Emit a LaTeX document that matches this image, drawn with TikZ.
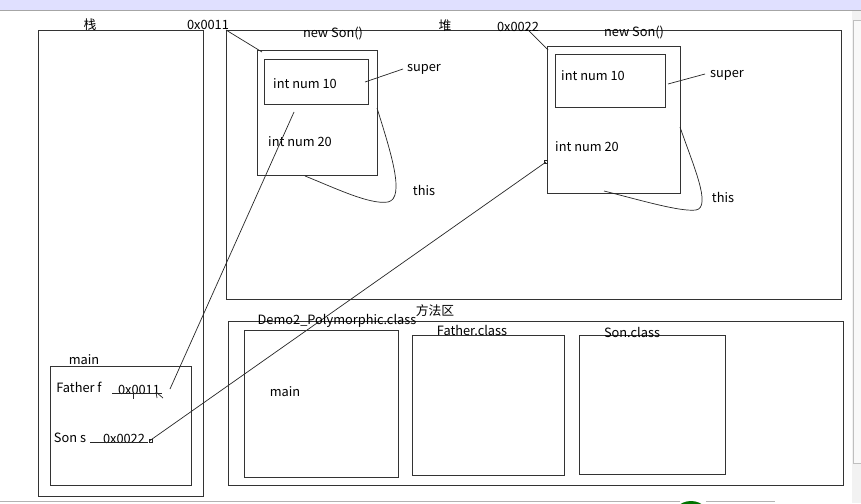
\documentclass[tikz,border=0pt]{standalone}
\usepackage{fontspec}
\setmainfont{Noto Sans CJK SC}
\begin{document}
\begin{tikzpicture}[x=1pt,y=-1pt,
  box/.style={draw=black!80, line width=0.8pt, inner sep=0pt, anchor=north west},
  lbl/.style={inner sep=0pt, font=\fontsize{12.8}{15}\selectfont, text=black},
  ln/.style={draw=black!85, line width=0.7pt}]
\useasboundingbox (0,0) rectangle (861,503);
\fill[white] (0,0) rectangle (861,503);
% window chrome
\fill[blue!12!white] (0,0) rectangle (861,10);
\draw[gray!70, line width=1pt] (0,10.5) -- (861,10.5);
\fill[gray!10] (852,11) rectangle (861,503);
\draw[gray!50, fill=gray!5] (853,20) rectangle (861,463);
\draw[gray!60, line width=1pt] (0,501.5) -- (680,501.5);
\draw[gray!60, line width=1pt] (706,501.5) -- (775,501.5);
\fill[green!45!black] (691,521) circle (20);
\fill[white] (691,521) circle (16);
\fill[green!40!black] (691,521) circle (14);

% stack
\node[box, minimum width=165pt, minimum height=466pt] (stack) at (38,30) {};
\node[lbl] (stacklbl) at (90,25) {栈};
\node[box, minimum width=141pt, minimum height=119pt] (mainframe) at (50,366) {};
\node[lbl] (mainlbl) at (84,360) {main};
\node[lbl] (fatherf) at (79,387) {Father f};
\node[lbl] (addr1) at (139,390) {0x0011};
\node[lbl] (sons) at (70,438) {Son s};
\node[lbl] (addr2) at (124,439) {0x0022};
\coordinate (u1a) at (112,393);
\coordinate (u1b) at (162,393);
\draw[ln] (u1a) -- (u1b);
\coordinate (t1a) at (133,393);
\coordinate (t1b) at (133,399);
\draw[ln] (t1a) -- (t1b);
\coordinate (m1a) at (156,392);
\coordinate (m1b) at (163,398);
\draw[ln] (m1a) -- (m1b);
\coordinate (m1c) at (156,392);
\coordinate (m1d) at (157,398);
\draw[ln] (m1c) -- (m1d);
\coordinate (u2a) at (90,442.5);
\coordinate (u2b) at (148,442.5);
\draw[ln] (u2a) -- (u2b);

% heap
\node[box, minimum width=615pt, minimum height=268pt] (heap) at (226,30.5) {};
\node[lbl] (heaplbl) at (445,26) {堆};
\node[lbl] (h1) at (208,25) {0x0011};
\node[lbl] (h2) at (518,27) {0x0022};

% object 1
\node[box, minimum width=120pt, minimum height=125pt] (o1) at (257,50) {};
\node[box, minimum width=104pt, minimum height=45pt] (o1in) at (264,59) {};
\node[lbl] (o1new) at (333,34) {new Son()};
\node[lbl] (o1n10) at (305,84) {int num 10};
\node[lbl] (o1n20) at (300,142) {int num 20};
\node[lbl] (o1super) at (424,69) {super};
\node[lbl] (o1this) at (424,190) {this};
\coordinate (o1a) at (226,30);
\coordinate (o1b) at (262,52);
\draw[ln] (o1a) -- (o1b);
\coordinate (o1s1) at (365,82);
\coordinate (o1s2) at (403,69);
\draw[ln] (o1s1) -- (o1s2);
\coordinate (o1t1) at (377,108);
\coordinate (o1t2) at (388,202);
\coordinate (o1t3) at (305,176);
\draw[ln] (o1t1) .. controls (390,150) and (406,198) .. (o1t2)
              .. controls (370,205) and (335,188) .. (o1t3);

% object 2
\node[box, minimum width=133pt, minimum height=146pt] (o2) at (546.5,46.5) {};
\node[box, minimum width=110pt, minimum height=52pt] (o2in) at (555,54.5) {};
\node[lbl] (o2new) at (634,33) {new Son()};
\node[lbl] (o2n10) at (593,76) {int num 10};
\node[lbl] (o2n20) at (587,147) {int num 20};
\node[lbl] (o2super) at (727,75) {super};
\node[lbl] (o2this) at (723,197) {this};
\coordinate (o2a) at (527,29);
\coordinate (o2b) at (548,50);
\draw[ln] (o2a) -- (o2b);
\coordinate (o2s1) at (668,84);
\coordinate (o2s2) at (705,74);
\draw[ln] (o2s1) -- (o2s2);
\coordinate (o2t1) at (680,127);
\coordinate (o2t2) at (696,210);
\coordinate (o2t3) at (604,191);
\draw[ln] (o2t1) .. controls (693,165) and (712,207) .. (o2t2)
              .. controls (680,212) and (640,200) .. (o2t3);

% references
\coordinate (r1a) at (170,389);
\coordinate (r1b) at (294,112);
\draw[ln] (r1a) -- (r1b);
\coordinate (r2a) at (150,440.5);
\coordinate (r2b) at (546,162);
\draw[ln] (r2a) -- (r2b);
\draw[ln, line width=0.4pt] (149,439) rectangle (152,442);
\draw[ln, line width=0.4pt] (544.5,160.5) rectangle (547.5,163.5);

% method area
\node[box, minimum width=615pt, minimum height=164pt] (method) at (228,320.5) {};
\node[lbl] (methodlbl) at (435,311) {方法区};
\node[box, minimum width=154pt, minimum height=147pt] (demo) at (244,330) {};
\node[lbl] (demolbl) at (337,321) {Demo2\_Polymorphic.class};
\node[lbl] (demomain) at (285,392) {main};
\node[box, minimum width=152pt, minimum height=140pt] (father) at (412,335) {};
\node[lbl] (fatherlbl) at (472,330) {Father.class};
\node[box, minimum width=146pt, minimum height=139pt] (son) at (579,335) {};
\node[lbl] (sonlbl) at (632,332) {Son.class};
\end{tikzpicture}
\end{document}
